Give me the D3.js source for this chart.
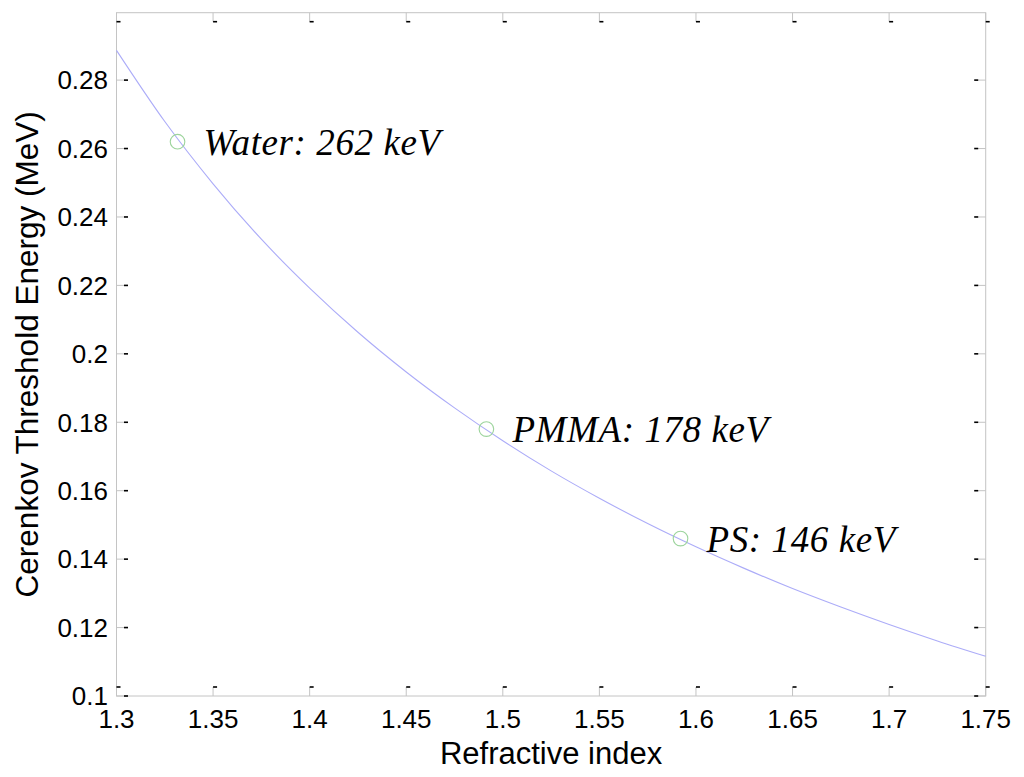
<!DOCTYPE html>
<html>
<head>
<meta charset="utf-8">
<script src="https://cdn.jsdelivr.net/npm/d3@7"></script>
<style>
  body { margin: 0; background: #fff; }
  text { font-family: "Liberation Sans", Arial, sans-serif; fill: #000; }
  .note { font-family: "Liberation Serif", "Times New Roman", serif; font-style: italic; letter-spacing: 0.6px; }
</style>
</head>
<body>
<div id="chart"></div>
<script>
// refractive index n, threshold energy (MeV)
const nIndex = [1.3, 1.325, 1.35, 1.375, 1.4, 1.425, 1.45, 1.475, 1.5, 1.525,
  1.55, 1.575, 1.6, 1.625, 1.65, 1.675, 1.7, 1.725, 1.75];
const energy = [0.2887, 0.2679, 0.2497, 0.2335, 0.2192, 0.2063, 0.1947, 0.1842, 0.1746, 0.1658,
  0.1578, 0.1504, 0.1436, 0.1373, 0.1314, 0.1260, 0.1209, 0.1161, 0.1116];

const materials = ['Water', 'PMMA', 'PS'];
const matIndex = [1.3316, 1.4915, 1.592];
const matEnergy = [0.262, 0.178, 0.146];
const matLabel = ['Water: 262 keV', 'PMMA: 178 keV', 'PS: 146 keV'];

const xTicks = [1.3, 1.35, 1.4, 1.45, 1.5, 1.55, 1.6, 1.65, 1.7, 1.75];
const yTicks = [0.1, 0.12, 0.14, 0.16, 0.18, 0.2, 0.22, 0.24, 0.26, 0.28];

const W = 1024, H = 777;
const m = { left: 116.5, right: 38.3, top: 12.7, bottom: 81 };
const iw = W - m.left - m.right, ih = H - m.top - m.bottom;

const svg = d3.select('#chart').append('svg')
  .attr('width', W).attr('height', H);
const g = svg.append('g').attr('transform', `translate(${m.left},${m.top})`);

const x = d3.scaleLinear().domain([1.3, 1.75]).range([0, iw]);
const y = d3.scaleLinear().domain([0.1, 0.2997]).range([ih, 0]);

// box
g.append('rect')
  .attr('width', iw).attr('height', ih)
  .attr('fill', 'none').attr('stroke', '#c4c4c4').attr('stroke-width', 1);

// x ticks, bottom and top (inside)
[[ih, -1], [0, 1]].forEach(([y0, dir]) => {
  const t = g.append('g').selectAll('g').data(xTicks).join('g')
    .attr('transform', d => `translate(${x(d)},${y0})`);
  t.append('line').attr('y2', dir * 9).attr('stroke', '#c4c4c4');
  t.append('line').attr('x1', 0).attr('x2', 4)
    .attr('y1', dir * 9).attr('y2', dir * 9)
    .attr('stroke', '#000').attr('stroke-width', 1.6);
});

// y ticks, left and right (inside)
[[0, 1], [iw, -1]].forEach(([x0, dir]) => {
  const t = g.append('g').selectAll('g').data(yTicks).join('g')
    .attr('transform', d => `translate(${x0},${y(d)})`);
  t.append('line').attr('x2', dir * 8).attr('stroke', '#c4c4c4');
  t.append('line').attr('x1', dir * 7.5).attr('x2', dir * 11.5)
    .attr('stroke', '#000').attr('stroke-width', 1.6);
});

// tick labels
g.append('g').selectAll('text').data(xTicks).join('text')
  .attr('x', d => x(d)).attr('y', ih + 32)
  .attr('text-anchor', 'middle').attr('font-size', 26)
  .text(d => d3.format('')(d));

g.append('g').selectAll('text').data(yTicks).join('text')
  .attr('x', -8.5).attr('y', d => y(d))
  .attr('dy', '0.36em')
  .attr('text-anchor', 'end').attr('font-size', 26)
  .text(d => d3.format('')(d));

// axis titles
svg.append('text')
  .attr('x', m.left + iw / 2).attr('y', 764)
  .attr('text-anchor', 'middle').attr('font-size', 31)
  .text('Refractive index');

svg.append('text')
  .attr('transform', `translate(38,${m.top + ih / 2}) rotate(-90)`)
  .attr('text-anchor', 'middle').attr('font-size', 31.5)
  .text('Cerenkov Threshold Energy (MeV)');

// curve
const line = d3.line().x((d, i) => x(nIndex[i])).y(d => y(d)).curve(d3.curveMonotoneX);
g.append('path')
  .datum(energy)
  .attr('d', line)
  .attr('fill', 'none')
  .attr('stroke', '#acacf8')
  .attr('stroke-width', 1.1);

// material markers + notes
g.append('g').selectAll('circle').data(materials).join('circle')
  .attr('cx', (d, i) => x(matIndex[i]))
  .attr('cy', (d, i) => y(matEnergy[i]))
  .attr('r', 7.3)
  .attr('fill', 'none')
  .attr('stroke', '#9cd49c')
  .attr('stroke-width', 1.1);

g.append('g').selectAll('text').data(materials).join('text')
  .attr('class', 'note')
  .attr('x', (d, i) => x(matIndex[i]) + 26)
  .attr('y', (d, i) => y(matEnergy[i]) + 13)
  .attr('font-size', 37)
  .text((d, i) => matLabel[i]);
</script>
</body>
</html>
